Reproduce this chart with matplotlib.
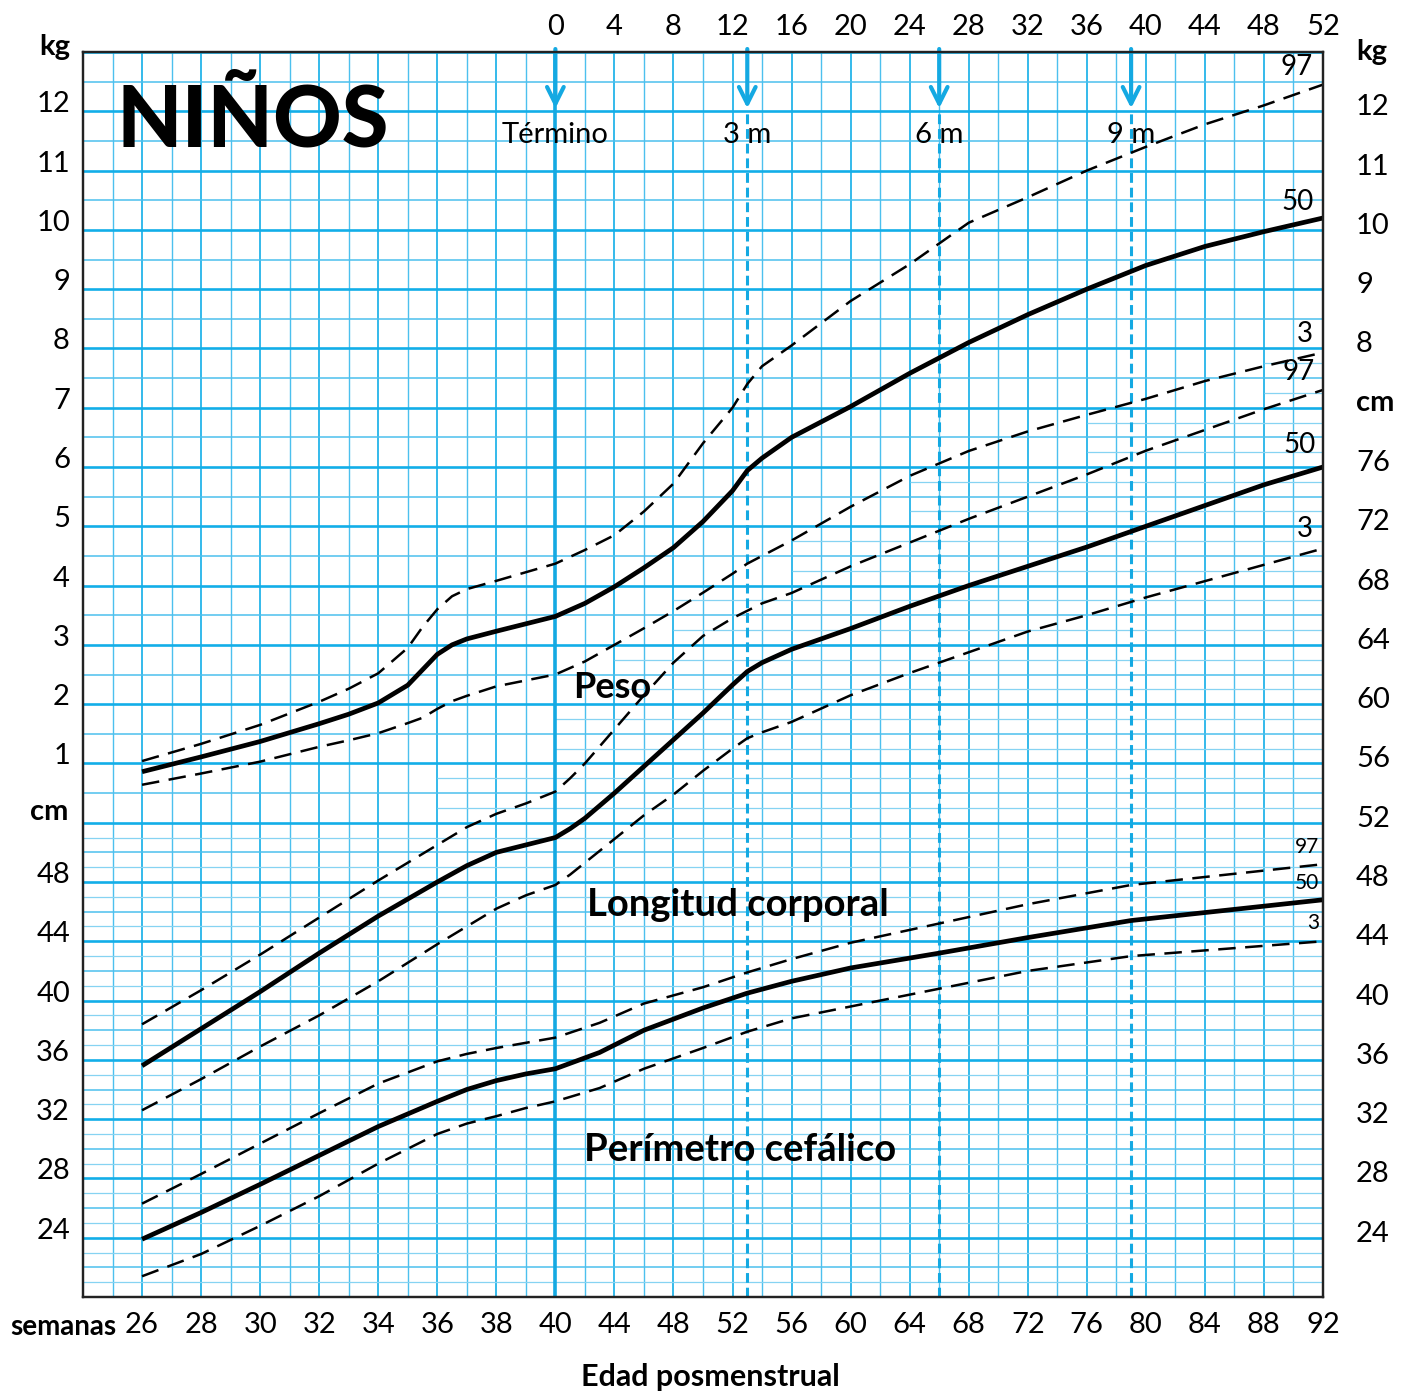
import numpy as np
import matplotlib.pyplot as plt
from matplotlib import transforms

plt.rcParams['font.family'] = ['Lato', 'DejaVu Sans']

# --- datos (edad posmenstrual en semanas) ---
peso_sem = [26, 28, 30, 32, 33, 34, 35, 35.5, 36, 36.5, 37, 38, 40, 42, 44, 46, 48, 50, 52, 53, 54, 56, 60, 64, 68, 72, 76, 80, 84, 88, 92]
peso_p97 = [1.04, 1.33, 1.65, 2.04, 2.26, 2.52, 2.95, 3.3, 3.6, 3.82, 3.94, 4.08, 4.37, 4.6, 4.85, 5.25, 5.72, 6.4, 7.0, 7.4, 7.7, 8.05, 8.8, 9.42, 10.12, 10.55, 11.0, 11.4, 11.78, 12.1, 12.45]
peso_p50 = [0.86, 1.11, 1.37, 1.67, 1.83, 2.02, 2.32, 2.58, 2.84, 3.0, 3.1, 3.23, 3.48, 3.7, 3.98, 4.3, 4.64, 5.08, 5.6, 5.94, 6.15, 6.5, 7.02, 7.58, 8.1, 8.57, 9.0, 9.4, 9.72, 9.97, 10.2]
peso_p3 = [0.64, 0.83, 1.03, 1.28, 1.39, 1.51, 1.68, 1.77, 1.92, 2.05, 2.14, 2.3, 2.5, 2.72, 3.0, 3.28, 3.57, 3.88, 4.2, 4.37, 4.5, 4.76, 5.33, 5.85, 6.27, 6.6, 6.88, 7.15, 7.45, 7.7, 7.93]

long_sem = [26, 28, 30, 32, 34, 36, 37, 38, 39, 40, 41, 42, 44, 46, 48, 50, 52, 53, 54, 56, 60, 64, 68, 72, 76, 80, 84, 88, 92]
long_p97 = [38.4, 40.7, 43.1, 45.6, 48.1, 50.5, 51.7, 52.6, 53.3, 54.1, 55.0, 56.0, 58.3, 60.6, 62.8, 64.6, 65.8, 66.3, 66.8, 67.5, 69.3, 70.9, 72.5, 74.0, 75.5, 77.1, 78.5, 79.9, 81.2]
long_p50 = [35.6, 38.1, 40.6, 43.2, 45.7, 48.0, 49.1, 50.0, 50.5, 51.0, 51.6, 52.3, 54.0, 55.8, 57.6, 59.4, 61.3, 62.2, 62.8, 63.7, 65.1, 66.6, 68.0, 69.3, 70.6, 72.0, 73.4, 74.8, 76.0]
long_p3 = [32.6, 34.7, 36.9, 39.0, 41.3, 43.8, 45.0, 46.2, 47.1, 47.8, 48.5, 49.3, 50.9, 52.5, 53.9, 55.5, 57.0, 57.7, 58.1, 58.8, 60.6, 62.1, 63.5, 64.9, 66.0, 67.2, 68.3, 69.4, 70.5]

pc_sem = [26, 28, 30, 32, 34, 36, 37, 38, 39, 40, 43, 46, 50, 53, 56, 60, 66, 72, 79, 92]
pc_p97 = [26.3, 28.3, 30.35, 32.4, 34.4, 35.9, 36.4, 36.8, 37.15, 37.5, 38.5, 39.8, 40.9, 41.9, 42.8, 43.9, 45.2, 46.5, 47.8, 49.2]
pc_p50 = [23.9, 25.7, 27.6, 29.55, 31.5, 33.2, 34.0, 34.6, 35.05, 35.4, 36.5, 38.0, 39.5, 40.5, 41.3, 42.2, 43.2, 44.25, 45.4, 46.8]
pc_p3 = [21.4, 22.9, 24.8, 26.8, 29.0, 31.0, 31.7, 32.2, 32.75, 33.2, 34.1, 35.4, 36.8, 37.9, 38.8, 39.6, 40.8, 42.0, 43.0, 44.0]

sem_ticks = [26, 28, 30, 32, 34, 36, 38, 40, 44, 48, 52, 56, 60, 64, 68, 72, 76, 80, 84, 88, 92]
edad_ticks = [0, 4, 8, 12, 16, 20, 24, 28, 32, 36, 40, 44, 48, 52]
kg_izq = [1, 2, 3, 4, 5, 6, 7, 8, 9, 10, 11, 12]
kg_der = [8, 9, 10, 11, 12]
cm_izq = [24, 28, 32, 36, 40, 44, 48]
cm_der = [24, 28, 32, 36, 40, 44, 48, 52, 56, 60, 64, 68, 72, 76]
meses_sem = [53, 66, 79]
meses_txt = ['3 m', '6 m', '9 m']
# escalera de la cuadricula fina: banda de kg -> semana de inicio
fina_kg = [0, 1, 2, 3, 4, 5, 6, 7]
fina_sem = [36, 40, 44, 48, 56, 64, 76, 88]

BLUE = '#12aee8'
BLUE2 = '#4cc0ee'
BLUE3 = '#86d3f2'
ARROW = '#14a9e2'


def fwd(w):
    w = np.asarray(w, float)
    return np.where(w <= 40, w - 24, 16 + (w - 40) / 2)


def inv(u):
    u = np.asarray(u, float)
    return np.where(u <= 16, u + 24, 40 + 2 * (u - 16))


W, H = 1403, 1393
fig = plt.figure(figsize=(W / 100, H / 100), dpi=100)
ax = fig.add_axes([83 / W, 1 - 1297 / H, 1240 / W, 1245 / H])
ax.set_xscale('function', functions=(fwd, inv))
ax.set_xlim(24, 92)
y0, y1 = -8, 13
ax.set_ylim(y0, y1)
ax2 = ax.twinx()
ax2.set_ylim(52 + 4 * y0, 52 + 4 * y1)

# cuadricula vertical
cols = list(range(24, 41)) + list(range(42, 93, 2))
for w in cols:
    dark = fwd(w) % 2 == 0
    ax.axvline(w, color=BLUE if dark else BLUE2, lw=1.2 if dark else 1.0, zorder=1)

# cuadricula horizontal
for k in np.arange(y0, y1 + 0.01, 0.5):
    if k % 1 == 0:
        ax.axhline(k, color=BLUE, lw=1.9, zorder=1.2)
    else:
        ax.axhline(k, color=BLUE2, lw=1.1, zorder=1.1)
for k in np.arange(y0 + 0.25, 0, 0.5):
    ax.axhline(k, color=BLUE3, lw=0.9, zorder=1)
for k, s in zip(fina_kg, fina_sem):
    ax.hlines([k + 0.25, k + 0.75], s, 92, color=BLUE3, lw=0.9, zorder=1)

# linea de termino y meses
ax.axvline(40, color=ARROW, lw=2.6, zorder=2)
for w in [40] + meses_sem:
    ax.annotate('', xy=(w, 12.05), xytext=(w, y1 + 0.05),
                arrowprops=dict(arrowstyle='->', color=ARROW, lw=3.0,
                                mutation_scale=30, shrinkA=0, shrinkB=0),
                zorder=3, annotation_clip=False)
for w in meses_sem:
    ax.vlines(w, y0, 12.0, colors=ARROW, lw=2.2, linestyles=(0, (3.2, 1.6)), zorder=2)

# curvas
dash = (0, (7, 3.8))
for p97, p50, p3, a, sem in [(peso_p97, peso_p50, peso_p3, ax, peso_sem),
                             (long_p97, long_p50, long_p3, ax2, long_sem),
                             (pc_p97, pc_p50, pc_p3, ax2, pc_sem)]:
    a.plot(sem, p97, color='black', lw=1.8, ls=dash, dash_joinstyle='round', zorder=5)
    a.plot(sem, p50, color='black', lw=3.4, solid_capstyle='butt', solid_joinstyle='round', zorder=5)
    a.plot(sem, p3, color='black', lw=1.8, ls=dash, dash_joinstyle='round', zorder=5)

# etiquetas de percentiles
etq = [(ax, peso_p97, '97', 20, (-10, 5)), (ax, peso_p50, '50', 20, (-9, 3)),
       (ax, peso_p3, '3', 20, (-10, 6)),
       (ax2, long_p97, '97', 20, (-8, 5)), (ax2, long_p50, '50', 20, (-7, 9)),
       (ax2, long_p3, '3', 20, (-10, 7)),
       (ax2, pc_p97, '97', 15, (-4, 7)), (ax2, pc_p50, '50', 15, (-4, 7)),
       (ax2, pc_p3, '3', 15, (-4, 8))]
for a, serie, t, fs, off in etq:
    a.annotate(t, xy=(92, serie[-1]), xytext=off, textcoords='offset pixels',
               ha='right', va='bottom', fontsize=fs, zorder=6)

# ejes
for a in (ax, ax2):
    for s in a.spines.values():
        s.set_linewidth(1.6)
        s.set_color('#222222')
        s.set_zorder(7)
ax.set_yticks([])
ax2.set_yticks([])
ax.set_xticks(sem_ticks)
ax.set_xticklabels([str(s) for s in sem_ticks], fontsize=21)
ax.tick_params(axis='x', length=0, pad=11)
ax.xaxis.set_minor_locator(plt.NullLocator())

tr_kg = transforms.blended_transform_factory(ax.transAxes, ax.transData)
tr_cm = transforms.blended_transform_factory(ax.transAxes, ax2.transData)
izq = dict(ha='right', va='center', fontsize=21)
der = dict(ha='left', va='center', fontsize=21)
off_i = transforms.ScaledTranslation(-13 / 100, 7 / 100, fig.dpi_scale_trans)
off_d = transforms.ScaledTranslation(33 / 100, 4 / 100, fig.dpi_scale_trans)
for v in kg_izq:
    ax.text(0, v, str(v), transform=tr_kg + off_i, **izq)
for v in kg_der:
    ax.text(1, v, str(v), transform=tr_kg + off_d, **der)
for v in cm_izq:
    ax.text(0, v, str(v), transform=tr_cm + off_i, **izq)
for v in cm_der:
    ax.text(1, v, str(v), transform=tr_cm + off_d, **der)

tr_top = transforms.blended_transform_factory(ax.transData, ax.transAxes)
for e in edad_ticks:
    ax.text(40 + e, 1, str(e), transform=tr_top + transforms.ScaledTranslation(0, 25 / 100, fig.dpi_scale_trans),
            ha='center', va='center', fontsize=21)

fig.text(70 / W, 1 - 47 / H, 'kg', ha='right', va='center', fontsize=21, fontweight='bold')
fig.text(68 / W, 1 - 812 / H, 'cm', ha='right', va='center', fontsize=21, fontweight='bold')
fig.text(1356 / W, 1 - 52 / H, 'kg', ha='left', va='center', fontsize=21, fontweight='bold')
fig.text(1356 / W, 1 - 403 / H, 'cm', ha='left', va='center', fontsize=21, fontweight='bold')
fig.text(10 / W, 1 - 1327 / H, 'semanas', ha='left', va='center', fontsize=20, fontweight='bold')
fig.text(710 / W, 1 - 1377 / H, 'Edad posmenstrual', ha='center', va='center', fontsize=22, fontweight='bold')

fig.text(253 / W, 1 - 122 / H, 'NIÑOS', ha='center', va='center', fontsize=61, fontweight='black')
tr_mes = transforms.blended_transform_factory(ax.transData, fig.transFigure)
ax.text(40, 1 - 135 / H, 'Término', transform=tr_mes, ha='center', va='center', fontsize=21, zorder=8)
for w, t in zip(meses_sem, meses_txt):
    ax.text(w, 1 - 135 / H, t, transform=tr_mes, ha='center', va='center', fontsize=21, zorder=8)

fig.text(612 / W, 1 - 688 / H, 'Peso', ha='center', va='center', fontsize=26, fontweight='bold')
fig.text(738 / W, 1 - 905 / H, 'Longitud corporal', ha='center', va='center', fontsize=27.5, fontweight='bold')
fig.text(740 / W, 1 - 1150 / H, 'Perímetro cefálico', ha='center', va='center', fontsize=27.5, fontweight='bold')

fig.savefig('out.png', dpi=100, facecolor='white')
